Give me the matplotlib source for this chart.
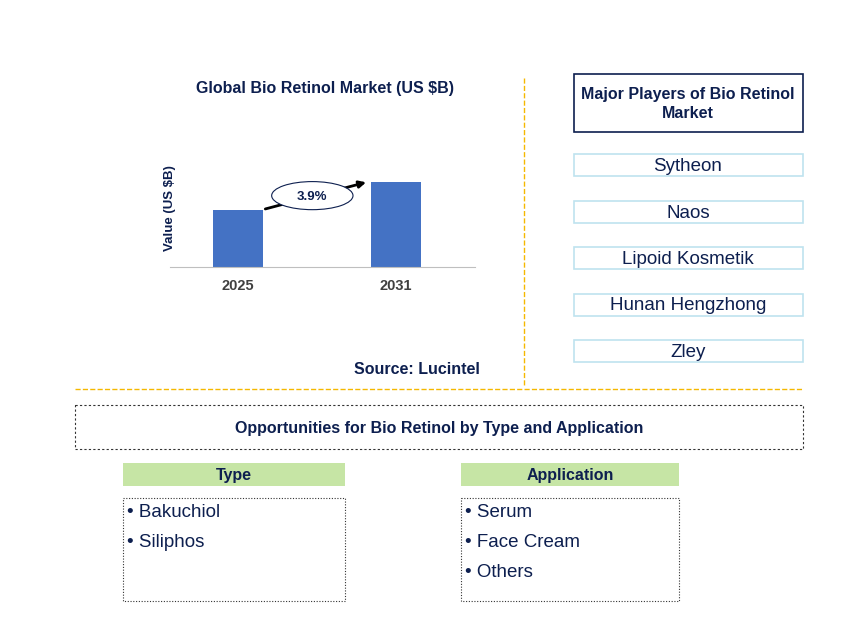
import matplotlib.pyplot as plt
from matplotlib.patches import Rectangle, Ellipse

plt.rcParams["font.family"] = "Liberation Sans"

years = ["2025", "2031"]
values = [0.49, 0.73]
cagr = "3.9%"
players = ["Sytheon", "Naos", "Lipoid Kosmetik", "Hunan Hengzhong", "Zley"]
types = ["Bakuchiol", "Siliphos"]
applications = ["Serum", "Face Cream", "Others"]

navy = "#0d1f4f"
W, H = 868, 642
fig = plt.figure(figsize=(W / 100, H / 100), dpi=100)
bg = fig.add_axes([0, 0, 1, 1])
bg.set_xlim(0, W)
bg.set_ylim(H, 0)
bg.axis("off")

# bar chart
ax = fig.add_axes([170 / W, 1 - 267 / H, 305 / W, 117 / H])
x = [0.3, 1.0]
ax.bar(x, values, width=0.22, color="#4472c4")
ax.set_xlim(0, 1.35)
ax.set_ylim(0, 1)
ax.set_xticks(x)
ax.set_xticklabels(years, fontsize=10.5, fontweight="bold", color="#404040")
ax.set_yticks([])
for s in ["top", "right", "left"]:
    ax.spines[s].set_visible(False)
ax.spines["bottom"].set_color("#bfbfbf")
ax.tick_params(axis="x", length=0, pad=9)
ax.set_ylabel("Value (US $B)", fontsize=9.5, fontweight="bold", color=navy, labelpad=-4)
ax.annotate("", xy=(x[1] - 0.12, values[1]), xytext=(x[0] + 0.11, values[0]),
            arrowprops=dict(arrowstyle="-|>", color="black", lw=2))
ax.add_patch(Ellipse((0.63, 0.61), 0.36, 0.24, facecolor="white", edgecolor=navy, lw=0.8, zorder=3))
ax.text(0.63, 0.60, cagr, ha="center", va="center", fontsize=9.5, fontweight="bold", color=navy, zorder=4)

bg.text(325, 88, "Global Bio Retinol Market (US $B)", ha="center", va="center",
        fontsize=11.5, fontweight="bold", color=navy)
bg.text(417, 369, "Source: Lucintel", ha="center", va="center", fontsize=11.5, fontweight="bold", color=navy)

bg.plot([524, 524], [78, 385], ls="--", color="#f5b800", lw=1)
bg.plot([75, 803], [389, 389], ls="--", color="#f5b800", lw=1)

# players
bg.add_patch(Rectangle((574, 74), 229, 58, fill=False, edgecolor=navy, lw=1.2))
bg.text(688, 104, "Major Players of Bio Retinol\nMarket", ha="center", va="center",
        fontsize=11.5, fontweight="bold", color=navy, linespacing=1.4)
for i, p in enumerate(players):
    cy = 165 + i * 46.5
    bg.add_patch(Rectangle((574, cy - 11), 229, 22, fill=False, edgecolor="#bfe3ef", lw=1.2))
    bg.text(688, cy + 1.5, p, ha="center", va="center", fontsize=13.5, color=navy)

# opportunities
bg.add_patch(Rectangle((75, 405), 728, 44, fill=False, edgecolor="#333333", lw=0.8, ls=(0, (2, 2))))
bg.text(439, 428, "Opportunities for Bio Retinol by Type and Application", ha="center", va="center",
        fontsize=11.5, fontweight="bold", color=navy)

for x0, head, items in [(123, "Type", types), (461, "Application", applications)]:
    w = 222 if x0 == 123 else 218
    bg.add_patch(Rectangle((x0, 463), w, 23, facecolor="#c6e5a5", edgecolor="none"))
    bg.text(x0 + w / 2, 475.5, head, ha="center", va="center", fontsize=11.5, fontweight="bold", color=navy)
    bg.add_patch(Rectangle((x0, 498), w, 103, fill=False, edgecolor="#333333", lw=0.8, ls=(0, (1, 1.5))))
    for j, it in enumerate(items):
        bg.text(x0 + 4, 512.5 + j * 30, "\u2022 " + it, ha="left", va="center", fontsize=13.5, color=navy)

fig.savefig("out.png", dpi=100)
